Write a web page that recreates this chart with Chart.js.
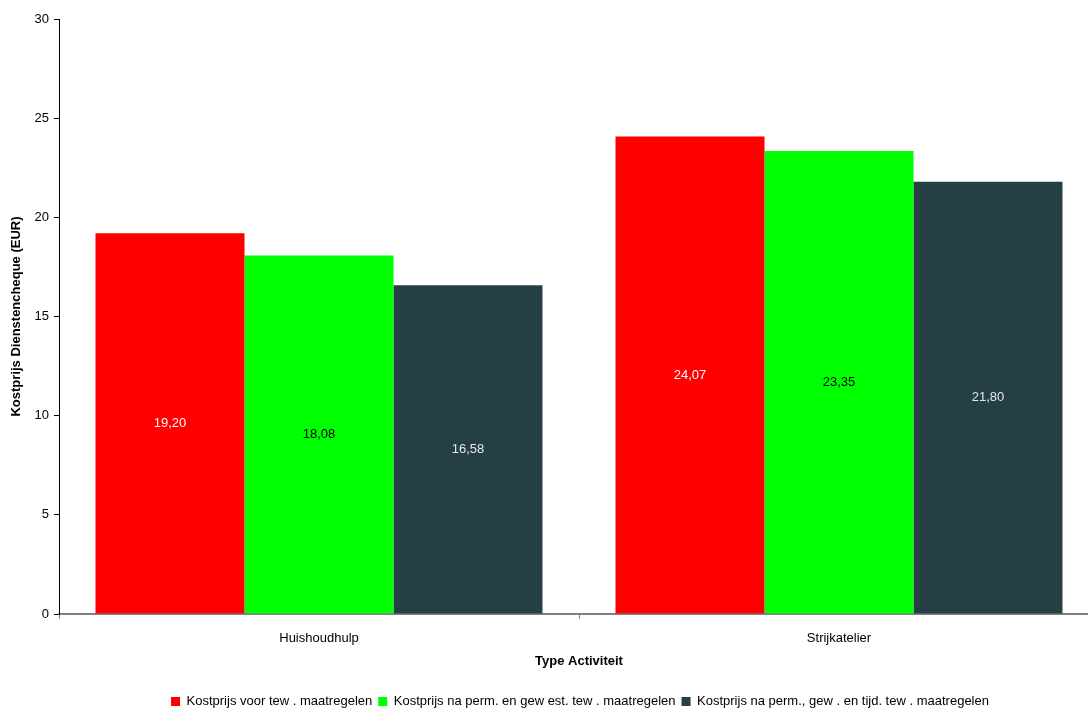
<!DOCTYPE html>
<html>
<head>
<meta charset="utf-8">
<script src="https://cdn.jsdelivr.net/npm/chart.js@4/dist/chart.umd.min.js"></script>
<style>
  html, body { margin: 0; padding: 0; background: #fff; overflow: hidden; }
  #wrap { width: 1160px; height: 720px; position: relative; }
</style>
</head>
<body>
<div id="wrap"><canvas id="c"></canvas></div>
<script>
const categories = ['Huishoudhulp', 'Strijkatelier'];
const seriesNames = [
  'Kostprijs voor tew . maatregelen',
  'Kostprijs na perm. en gew est. tew . maatregelen',
  'Kostprijs na perm., gew . en tijd. tew . maatregelen'
];
const voorMaatregelen = [19.20, 24.07];
const naPermGewest = [18.08, 23.35];
const naPermGewTijd = [16.58, 21.80];
const yTicks = [0, 5, 10, 15, 20, 25, 30];

const barColors = ['#ff0000', '#00ff00', '#244045'];
const labelColors = ['#ffffff', '#000000', '#e6e6e6'];
const FONT = '"Liberation Sans", Arial, sans-serif';

// writes each value, with a decimal comma, in the middle of its bar
const centreLabels = {
  id: 'centreLabels',
  afterDatasetsDraw(chart) {
    const ctx = chart.ctx;
    ctx.save();
    ctx.font = '13px ' + FONT;
    ctx.textAlign = 'center';
    ctx.textBaseline = 'middle';
    chart.data.datasets.forEach((ds, i) => {
      chart.getDatasetMeta(i).data.forEach((bar, j) => {
        const v = ds.data[j];
        ctx.fillStyle = labelColors[i];
        ctx.fillText(v.toFixed(2).replace('.', ','), bar.x, (bar.y + bar.base) / 2);
      });
    });
    ctx.restore();
  }
};

new Chart(document.getElementById('c'), {
  type: 'bar',
  data: {
    labels: categories,
    datasets: [voorMaatregelen, naPermGewest, naPermGewTijd].map((d, i) => ({
      label: seriesNames[i],
      data: d,
      backgroundColor: barColors[i],
      borderWidth: 0,
      categoryPercentage: 0.8596,
      barPercentage: 1.0
    }))
  },
  options: {
    responsive: true,
    maintainAspectRatio: false,
    animation: false,
    layout: { padding: { left: 0, right: 0, top: 19, bottom: 2 } },
    plugins: {
      tooltip: { enabled: false },
      legend: {
        position: 'bottom',
        labels: {
          boxWidth: 9,
          boxHeight: 9,
          padding: 6,
          color: '#000',
          font: { family: FONT, size: 13 }
        }
      }
    },
    scales: {
      x: {
        offset: true,
        grid: { offset: true, drawOnChartArea: false, drawTicks: true, tickLength: 5, color: '#808080' },
        border: { color: '#808080', width: 2 },
        ticks: { color: '#000', padding: 12, font: { family: FONT, size: 13 } },
        title: { display: true, text: 'Type Activiteit', color: '#000', padding: { top: 0, bottom: 20 },
                 font: { family: FONT, size: 13, weight: 'bold' } },
        afterFit(s) { s.height = 75; }
      },
      y: {
        min: 0,
        max: 30,
        afterBuildTicks(s) { s.ticks = yTicks.map(v => ({ value: v })); },
        grid: { drawOnChartArea: false, drawTicks: true, tickLength: 5, color: '#000' },
        border: { color: '#000', width: 1 },
        ticks: { color: '#000', padding: 5, font: { family: FONT, size: 13 } },
        title: { display: true, text: 'Kostprijs Dienstencheque (EUR)', color: '#000', padding: { top: 9, bottom: 0 },
                 font: { family: FONT, size: 13, weight: 'bold' } },
        afterFit(s) { s.width = 59; }
      },
      // empty margin on the right of the plot, keeps the legend centred on the page
      yRight: {
        position: 'right',
        display: true,
        grid: { display: false },
        border: { display: false },
        ticks: { display: false },
        afterFit(s) { s.width = 61; }
      }
    }
  },
  plugins: [centreLabels]
});
</script>
</body>
</html>
